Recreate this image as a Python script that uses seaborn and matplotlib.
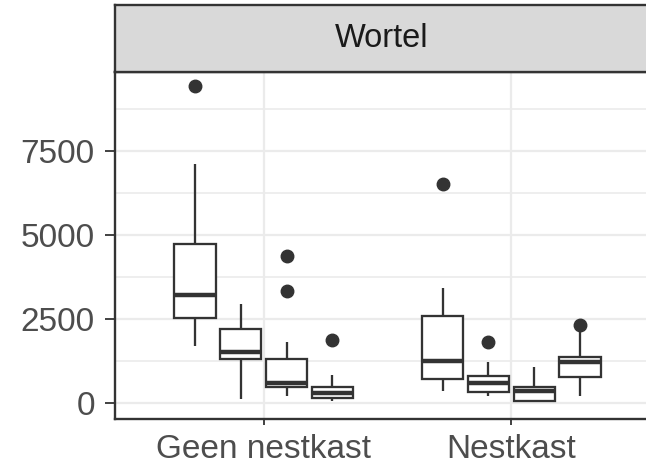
import numpy as np
import pandas as pd
import matplotlib
matplotlib.use("Agg")
import matplotlib.pyplot as plt
from matplotlib.ticker import MultipleLocator, FixedLocator
import seaborn as sns

# ---- data ----
categories = ["Geen nestkast", "Nestkast"]
groups = ["A", "B", "C", "D"]
geen_A = [1690, 2100, 2530, 2900, 3205, 4000, 4723, 7095, 9426]
geen_B = [110, 900, 1291, 1400, 1500, 1900, 2193, 2500, 2928]
geen_C = [208, 300, 400, 476, 500, 540, 577, 800, 1100, 1291, 1798, 3333, 4375]
geen_D = [50, 100, 149, 220, 298, 400, 476, 824, 1866]
nest_A = [357, 500, 705, 1000, 1250, 2000, 2589, 3423, 6500]
nest_B = [208, 250, 308, 450, 577, 700, 804, 1220, 1816]
nest_C = [50, 55, 60, 200, 357, 420, 476, 800, 1071]
nest_D = [199, 500, 776, 1000, 1220, 1300, 1350, 2120, 2300]
y_ticks = [0, 2500, 5000, 7500]
strip_label = "Wortel"

series = {
    ("Geen nestkast", "A"): geen_A, ("Geen nestkast", "B"): geen_B,
    ("Geen nestkast", "C"): geen_C, ("Geen nestkast", "D"): geen_D,
    ("Nestkast", "A"): nest_A, ("Nestkast", "B"): nest_B,
    ("Nestkast", "C"): nest_C, ("Nestkast", "D"): nest_D,
}
rows = []
for (cat, grp), vals in series.items():
    for v in vals:
        rows.append({"nestkast": cat, "groep": grp, "waarde": v})
df = pd.DataFrame(rows)

# ---- styling ----
sns.set_style("white")
plt.rcParams["font.family"] = ["Liberation Sans", "DejaVu Sans"]

W, H = 646, 470
fig = plt.figure(figsize=(W / 100, H / 100), dpi=100)
left, right, top, bottom, strip_top = 115, 660, 71.5, 419.3, 5
ax = fig.add_axes([left / W, (H - bottom) / H, (right - left) / W, (bottom - top) / H])
sax = fig.add_axes([left / W, (H - top) / H, (right - left) / W, (top - strip_top) / H])

edge = "#333333"
sns.boxplot(
    data=df, x="nestkast", y="waarde", hue="groep",
    order=categories, hue_order=groups,
    palette=["white"] * 4, width=0.74, gap=0.1,
    linecolor=edge, linewidth=1.65, showcaps=False,
    flierprops=dict(marker="o", markerfacecolor=edge, markeredgecolor=edge, markersize=9),
    medianprops=dict(linewidth=3.2, color=edge),
    legend=False, ax=ax,
)

ax.set_xlim(-0.6, 1.6)
ax.set_ylim(-494, 9857)
ax.yaxis.set_major_locator(FixedLocator(y_ticks))
ax.yaxis.set_minor_locator(MultipleLocator(1250))
ax.set_axisbelow(True)
ax.grid(True, which="major", color="#EBEBEB", linewidth=1.6)
ax.grid(True, which="minor", axis="y", color="#EBEBEB", linewidth=1.2)
ax.set_xlabel("")
ax.set_ylabel("")
ax.tick_params(axis="both", which="major", width=1.3, color=edge,
               labelsize=24, labelcolor="#4D4D4D", left=True, bottom=True)
ax.tick_params(axis="y", which="major", length=7, pad=7.5)
ax.tick_params(axis="x", which="major", length=4.5, pad=6)
ax.tick_params(axis="y", which="minor", length=0)
for s in ax.spines.values():
    s.set_color(edge)
    s.set_linewidth(1.7)

sax.set_facecolor("#D9D9D9")
sax.set_xticks([])
sax.set_yticks([])
for s in sax.spines.values():
    s.set_color(edge)
    s.set_linewidth(1.7)
sax.text((387.5 - left) / (right - left) - 0.01, 0.5, strip_label, transform=sax.transAxes,
         ha="center", va="center", fontsize=23.5, color="#1A1A1A")

fig.savefig("out.png", dpi=100)
